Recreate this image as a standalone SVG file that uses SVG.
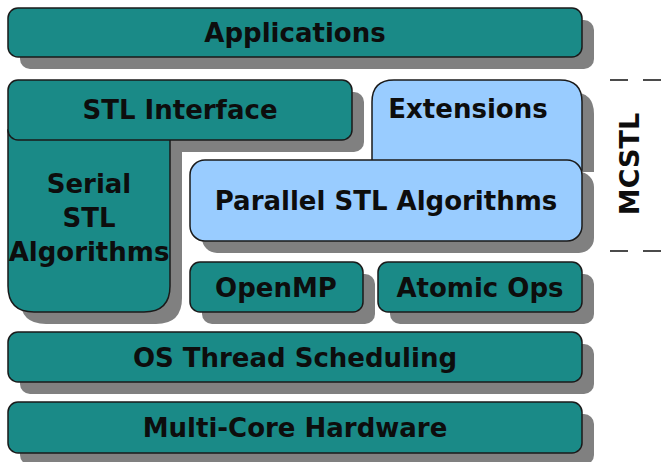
<svg xmlns="http://www.w3.org/2000/svg" width="667" height="462" viewBox="0 0 667 462">
<style>
.sh{fill:#808080;stroke:none}
.tl{fill:#1a8a87;stroke:#1a1a1a;stroke-width:1.5}
.lb{fill:#99ccff;stroke:#1a1a1a;stroke-width:1.5}
.t{font-family:"DejaVu Sans",sans-serif;font-weight:bold;font-size:26px;fill:#0d0d0d;text-anchor:middle}
.d{stroke:#111;stroke-width:1.5;stroke-dasharray:18 15;fill:none}
</style>
<rect width="667" height="462" fill="#fff"/>
<g id="shadows">
<rect class="sh" x="20" y="20" width="574" height="49" rx="10"/>
<rect class="sh" x="20" y="92" width="344" height="60" rx="10"/>
<path class="sh" d="M20,152 L182,152 L182,298 Q182,324 156,324 L46,324 Q20,324 20,298 Z"/>
<path class="sh" d="M384,172 L384,114 Q384,92 406,92 L572,92 Q594,92 594,114 L594,172 Z"/>
<rect class="sh" x="202" y="172" width="392" height="81" rx="15"/>
<rect class="sh" x="202" y="274" width="173" height="50" rx="10"/>
<rect class="sh" x="390" y="274" width="204" height="50" rx="10"/>
<rect class="sh" x="20" y="344" width="574" height="50" rx="10"/>
<rect class="sh" x="20" y="414" width="574" height="51" rx="10"/>
</g>
<g id="applications">
<rect class="tl" x="8" y="8" width="574" height="49" rx="10"/>
<text class="t" x="295" y="42">Applications</text>
</g>
<g id="serial">
<path class="tl" d="M8,130 L170,130 L170,286 Q170,312 144,312 L34,312 Q8,312 8,286 Z"/>
<text class="t" x="89" y="193">Serial</text>
<text class="t" x="89" y="227">STL</text>
<text class="t" x="89" y="261">Algorithms</text>
</g>
<g id="stl-interface">
<rect class="tl" x="8" y="80" width="344" height="60" rx="10"/>
<text class="t" x="180" y="119">STL Interface</text>
</g>
<g id="extensions">
<path class="lb" d="M372,170 L372,102 Q372,80 394,80 L560,80 Q582,80 582,102 L582,170 Z"/>
<text class="t" x="468" y="118">Extensions</text>
</g>
<g id="parallel">
<rect class="lb" x="190" y="160" width="392" height="81" rx="15"/>
<text class="t" x="386" y="210">Parallel STL Algorithms</text>
</g>
<g id="openmp">
<rect class="tl" x="190" y="262" width="173" height="50" rx="10"/>
<text class="t" x="276" y="297">OpenMP</text>
</g>
<g id="atomic">
<rect class="tl" x="378" y="262" width="204" height="50" rx="10"/>
<text class="t" x="480" y="297">Atomic Ops</text>
</g>
<g id="os">
<rect class="tl" x="8" y="332" width="574" height="50" rx="10"/>
<text class="t" x="295" y="367">OS Thread Scheduling</text>
</g>
<g id="hardware">
<rect class="tl" x="8" y="402" width="574" height="51" rx="10"/>
<text class="t" x="295" y="437">Multi-Core Hardware</text>
</g>
<g id="connectors">
<line class="d" x1="610" y1="80" x2="667" y2="80"/>
<line class="d" x1="610" y1="251" x2="667" y2="251"/>
</g>
<g id="mcstl">
<text class="t" style="font-size:27px" transform="translate(639,164) rotate(-90)" x="0" y="0">MCSTL</text>
</g>
</svg>
